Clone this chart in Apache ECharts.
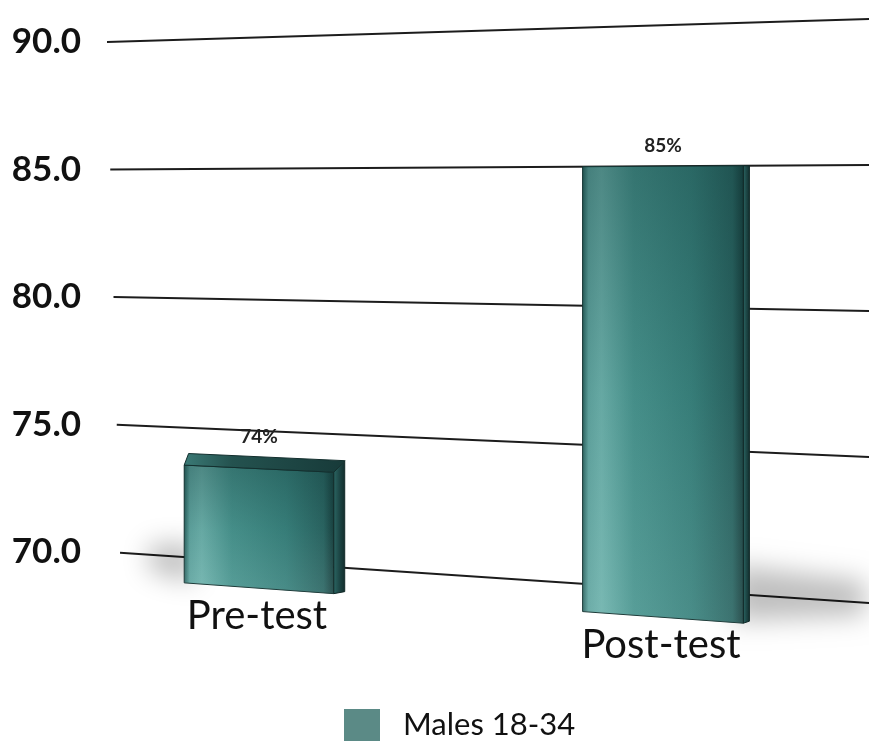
<!DOCTYPE html>
<html>
<head>
<meta charset="utf-8">
<title>Males 18-34</title>
<script src="https://cdn.jsdelivr.net/npm/echarts@6/dist/echarts.min.js"></script>
<style>
  html, body { margin: 0; padding: 0; background: #ffffff; }
  #chart { width: 869px; height: 741px; }
</style>
</head>
<body>
<div id="chart"></div>
<script>
// Chart data
const CATEGORIES = ['Pre-test', 'Post-test'];
const VALUES = [74, 85];
const VALUE_LABELS = ['74%', '85%'];
const Y_TICKS = [70, 75, 80, 85, 90];
const SERIES_NAME = 'Males 18-34';
const BASE_VALUE = 69;      // floor the bars stand on
const HORIZON_VALUE = 83.8; // value level where the floor lines run flat

const chart = echarts.init(document.getElementById('chart'), null, { renderer: 'canvas' });

// Perspective helpers: vertical distances from the horizon grow toward the right.
const GROW = 0.000191;
function makePersp(api, cs) {
  const yv = api.coord([0, HORIZON_VALUE])[1];
  const x0 = cs.x + 53;
  const f = x => 1 + (x - x0) * GROW;
  return { yv, f, P: (x, y) => yv + (y - yv) * f(x) };
}

function renderGridLine(params, api) {
  const cs = params.coordSys;
  const v = api.value(1);
  const y = api.coord([0, v])[1];
  const { P } = makePersp(api, cs);
  const xs = cs.x + 50 + (Y_TICKS[Y_TICKS.length - 1] - v) * 0.65;
  const xe = cs.x + cs.width + 6;
  return {
    type: 'line',
    shape: { x1: xs, y1: P(xs, y), x2: xe, y2: P(xe, y) },
    style: { stroke: '#1c1c1c', lineWidth: 2 },
    silent: true
  };
}

function renderBar(params, api) {
  const cs = params.coordSys;
  const idx = api.value(0);
  const v = api.value(1);
  const top = api.coord([idx, v]);
  const bot = api.coord([idx, BASE_VALUE]);
  const { yv, f, P } = makePersp(api, cs);
  const cx = top[0];
  const hw = api.size([1, 0])[0] * 0.36 / 2 * f(cx);
  const xl = cx - hw, xr = cx + hw;
  const ytl = P(xl, top[1]), ytr = P(xr, top[1]);
  const ybl = P(xl, bot[1]), ybr = P(xr, bot[1]);
  const ytc = P(cx, top[1]), ybc = P(cx, bot[1]);
  const depth = Math.max(0, (ytc - yv) * 0.045);
  const side = Math.max(3, (cs.x + cs.width + 380 - xr) * 0.012);
  const len = 0.27 * (ybc - ytc);
  const dir = cx < cs.x + cs.width / 2 ? -1 : 1;
  const FAR = 3000;

  // soft floor shadow (shape kept off-canvas, only its blurred shadow is shown)
  const sh = dir > 0
    ? [[xr - 10, ybr - 58], [xr + len, ybr - 42], [xr + len, ybr - 8], [xr - 10, ybr - 2]]
    : [[xl - len, ybl - 38], [xl + 10, ybl - 40], [xl + 10, ybl], [xl - len, ybl - 12]];
  const shadow = {
    type: 'polygon',
    shape: { points: sh.map(p => [p[0] - FAR, p[1]]) },
    style: {
      fill: 'rgba(0,0,0,0.5)',
      shadowColor: 'rgba(0,0,0,0.5)',
      shadowBlur: 26,
      shadowOffsetX: FAR
    },
    silent: true
  };

  const facePts = [[xl, ytl + depth], [xr, ytr + depth], [xr, ybr], [xl, ybl]];
  const front = {
    type: 'polygon',
    shape: { points: facePts },
    style: {
      fill: new echarts.graphic.LinearGradient(0, 0, 1, 0, [
        { offset: 0, color: '#285f5c' },
        { offset: 0.04, color: '#62a7a2' },
        { offset: 0.12, color: '#6eb3ad' },
        { offset: 0.32, color: '#4a9690' },
        { offset: 0.68, color: '#3a837e' },
        { offset: 0.93, color: '#2c6764' },
        { offset: 1, color: '#1a4140' }
      ]),
      stroke: '#163533',
      lineWidth: 1
    }
  };
  const shade = {
    type: 'polygon',
    shape: { points: facePts },
    style: {
      fill: new echarts.graphic.LinearGradient(0, 0, 0, 1, [
        { offset: 0, color: 'rgba(8,45,45,0.32)' },
        { offset: 0.5, color: 'rgba(8,45,45,0.08)' },
        { offset: 1, color: 'rgba(255,255,255,0.08)' }
      ])
    },
    silent: true
  };
  const sideFace = {
    type: 'polygon',
    shape: { points: [[xr, ytr + depth], [xr + side, ytr], [xr + side, ybr - 2], [xr, ybr]] },
    style: {
      fill: new echarts.graphic.LinearGradient(0, 0, 1, 0, [
        { offset: 0, color: '#2c6865' },
        { offset: 0.5, color: '#1d4746' },
        { offset: 1, color: '#122c2b' }
      ]),
      stroke: '#112928',
      lineWidth: 1
    }
  };
  const children = [shadow, front, shade, sideFace];
  if (depth > 1) {
    children.push({
      type: 'polygon',
      shape: { points: [[xl, ytl + depth], [xr, ytr + depth], [xr + side, ytr], [xl + side * 0.4, ytl]] },
      style: {
        fill: new echarts.graphic.LinearGradient(0, 0, 1, 0, [
          { offset: 0, color: '#3b7a76' },
          { offset: 0.3, color: '#24524f' },
          { offset: 1, color: '#173a39' }
        ]),
        stroke: '#132f2e',
        lineWidth: 1
      }
    });
  }
  // value label above the bar
  children.push({
    type: 'text',
    x: cx,
    y: ytc - 20,
    style: {
      text: VALUE_LABELS[idx],
      fill: '#222222',
      font: 'bold 19px Lato, "Open Sans", sans-serif',
      align: 'center',
      verticalAlign: 'middle'
    },
    silent: true
  });
  // category name under the bar
  children.push({
    type: 'text',
    x: cx - 2,
    y: ybc + 8,
    style: {
      text: CATEGORIES[idx],
      fill: '#111111',
      font: '40px Lato, "Open Sans", sans-serif',
      align: 'center',
      verticalAlign: 'top'
    },
    silent: true
  });
  return { type: 'group', children };
}

const option = {
  animation: false,
  backgroundColor: '#ffffff',
  grid: { left: 57, width: 808, top: 42, bottom: 61.5, containLabel: false },
  legend: {
    data: [{ name: SERIES_NAME, icon: 'rect' }],
    left: 344,
    top: 709,
    padding: 0,
    itemWidth: 36,
    itemHeight: 32,
    selectedMode: false,
    textStyle: {
      fontFamily: 'Lato, "Open Sans", sans-serif',
      fontSize: 31,
      color: '#111111',
      padding: [0, 0, 0, 18]
    }
  },
  xAxis: {
    type: 'category',
    data: CATEGORIES,
    axisLine: { show: false },
    axisTick: { show: false },
    axisLabel: { show: false },
    splitLine: { show: false }
  },
  yAxis: {
    type: 'value',
    min: 65,
    max: 90,
    interval: 5,
    offset: -39,
    axisLine: { show: false },
    axisTick: { show: false },
    splitLine: { show: false },
    axisLabel: {
      margin: 15,
      fontFamily: 'Lato, "Open Sans", sans-serif',
      fontWeight: 'bold',
      fontSize: 35,
      color: '#111111',
      formatter: v => (Y_TICKS.indexOf(v) >= 0 ? v.toFixed(1) : '')
    }
  },
  series: [
    {
      type: 'custom',
      name: 'gridlines',
      z: 1,
      clip: false,
      renderItem: renderGridLine,
      data: Y_TICKS.map(v => [0, v]),
      silent: true
    },
    {
      type: 'custom',
      name: SERIES_NAME,
      z: 2,
      clip: false,
      itemStyle: { color: '#5b8a86' },
      renderItem: renderBar,
      data: VALUES.map((v, i) => [i, v])
    }
  ]
};

chart.setOption(option);
</script>
</body>
</html>
